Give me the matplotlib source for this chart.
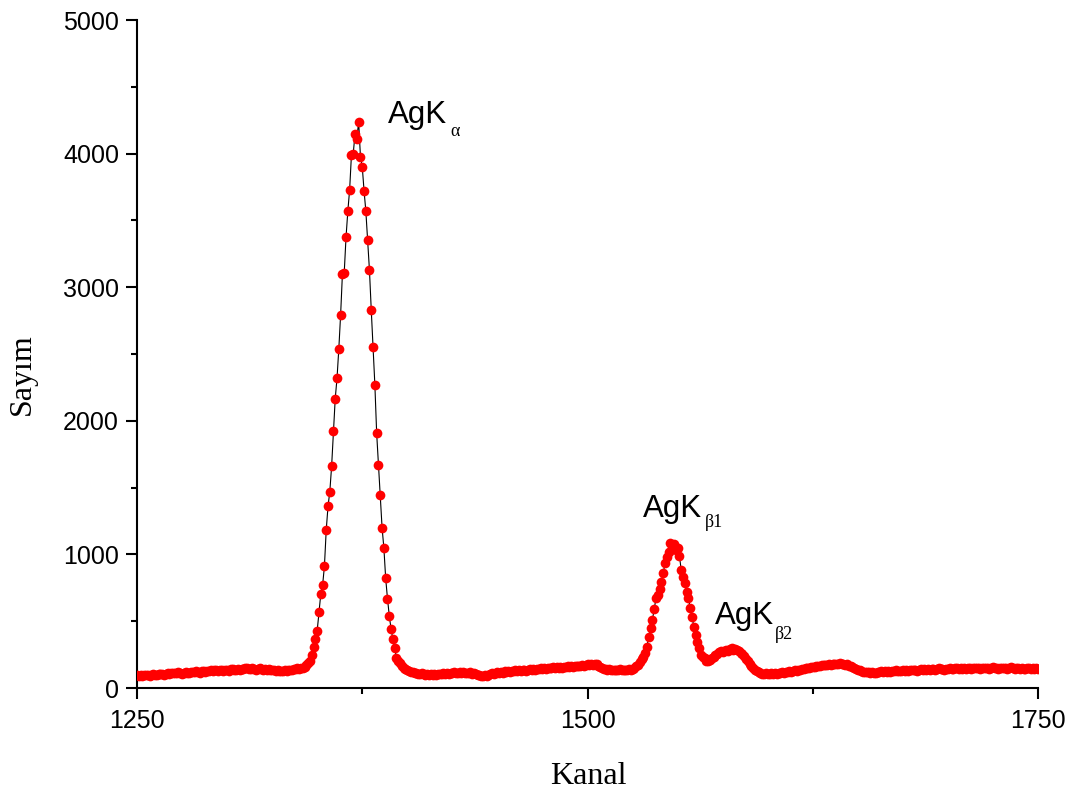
import numpy as np
import matplotlib
matplotlib.use("Agg")
import matplotlib.pyplot as plt
from matplotlib.ticker import MultipleLocator

# ---- data (counts per channel, channel 1250 .. 1750) ----
counts = [
    95, 92, 98, 90, 94, 100, 97, 93, 99, 104,
    101, 96, 105, 108, 102, 99, 106, 110, 104, 112,
    115, 109, 113, 118, 111, 107, 114, 120, 116, 112,
    118, 123, 119, 125, 121, 116, 124, 128, 122, 130,
    127, 133, 126, 131, 138, 129, 135, 132, 128, 136,
    134, 130, 139, 142, 136, 133, 140, 137, 144, 141,
    147, 150, 143, 139, 146, 141, 137, 143, 148, 140,
    136, 142, 138, 145, 134, 131, 137, 129, 133, 127,
    130, 125, 132, 128, 135, 131, 138, 142, 140, 148,
    145, 150, 148, 158, 170, 185, 205, 250, 310, 370,
    430, 570, 705, 770, 910, 1180, 1360, 1470, 1660, 1920,
    2165, 2320, 2540, 2795, 3100, 3110, 3375, 3570, 3730, 3990,
    4000, 4150, 4110, 4240, 3977, 3902, 3722, 3568, 3351, 3127,
    2829, 2555, 2270, 1906, 1671, 1442, 1200, 1048, 821, 669,
    541, 440, 365, 297, 227, 205, 185, 165, 150, 140,
    135, 128, 122, 118, 112, 115, 108, 105, 110, 104,
    101, 106, 99, 103, 97, 104, 100, 108, 102, 106,
    111, 105, 113, 108, 116, 110, 118, 112, 115, 120,
    114, 118, 109, 116, 112, 119, 107, 113, 104, 100,
    96, 92, 88, 95, 90, 98, 104, 110, 106, 114,
    118, 112, 121, 116, 124, 119, 127, 122, 130, 125,
    131, 128, 135, 130, 138, 133, 129, 136, 140, 134,
    141, 137, 145, 139, 148, 143, 150, 144, 147, 152,
    146, 154, 149, 156, 151, 158, 153, 160, 155, 162,
    157, 164, 159, 166, 161, 168, 163, 170, 165, 172,
    176, 170, 180, 174, 183, 177, 168, 160, 152, 145,
    140, 136, 142, 134, 138, 131, 137, 133, 139, 135,
    132, 138, 134, 141, 137, 145, 152, 162, 175, 195,
    215, 234, 260, 309, 384, 447, 509, 591, 671, 696,
    740, 796, 858, 933, 983, 1020, 1083, 1050, 1075, 1030,
    1046, 990, 883, 830, 784, 721, 671, 597, 534, 459,
    397, 347, 297, 247, 230, 222, 205, 200, 210, 225,
    234, 247, 258, 268, 275, 272, 280, 284, 278, 290,
    297, 288, 295, 285, 280, 262, 255, 240, 220, 200,
    180, 165, 150, 138, 128, 118, 112, 108, 104, 110,
    106, 102, 110, 105, 113, 108, 116, 111, 119, 114,
    120, 117, 124, 119, 127, 131, 126, 134, 138, 143,
    140, 147, 151, 148, 155, 160, 157, 164, 168, 165,
    172, 169, 175, 171, 178, 174, 180, 176, 183, 179,
    184, 177, 181, 173, 176, 168, 162, 155, 148, 140,
    136, 131, 127, 123, 120, 117, 121, 114, 118, 112,
    116, 121, 118, 124, 119, 126, 122, 128, 123, 130,
    126, 132, 127, 124, 130, 135, 129, 133, 128, 136,
    131, 138, 133, 129, 136, 140, 134, 139, 135, 142,
    137, 143, 139, 135, 141, 146, 140, 144, 138, 145,
    141, 147, 143, 139, 146, 150, 144, 148, 142, 149,
    145, 151, 146, 142, 148, 153, 147, 150, 144, 151,
    146, 152, 147, 143, 149, 154, 148, 151, 145, 150,
    147, 153, 146, 142, 148, 155, 149, 145, 151, 147,
    143, 149, 145, 141, 147, 151, 144, 148, 142, 146,
    140,
]
channels = np.arange(1250, 1250 + len(counts))

x_ticks = [1250, 1500, 1750]
y_ticks = [0, 1000, 2000, 3000, 4000, 5000]

# peak labels: (main text, subscript, x, y of main text, x, y of subscript)
peak_labels = [
    ("AgK", "\u03b1", 1389.3, 4229, 1423.7, 4128),
    ("AgK", "\u03b21", 1531.0, 1280, 1565.2, 1205),
    ("AgK", "\u03b22", 1570.8, 479, 1604.0, 367),
]

fig = plt.figure(figsize=(10.77, 7.92), dpi=100)
ax = fig.add_axes([137/1077, 1 - 688/792, (1038-137)/1077, (688-20)/792])

ax.plot(channels, counts, color="black", lw=0.8, zorder=2)
ax.plot(channels, counts, "o", color="#ff0000", ms=7, mew=0, zorder=3)

ax.set_xlim(1250, 1750)
ax.set_ylim(0, 5000)
ax.set_xticks(x_ticks)
ax.set_yticks(y_ticks)
ax.xaxis.set_minor_locator(MultipleLocator(125))
ax.yaxis.set_minor_locator(MultipleLocator(500))

for s in ["top", "right"]:
    ax.spines[s].set_visible(False)
for s in ["left", "bottom"]:
    ax.spines[s].set_linewidth(1.5)

ax.tick_params(which="major", direction="out", length=8, width=1.5,
               labelsize=18, pad=5)
ax.tick_params(which="minor", direction="out", length=4, width=1.5)
ax.tick_params(axis="x", which="major", pad=7)
for lbl in ax.get_xticklabels() + ax.get_yticklabels():
    lbl.set_fontfamily("Liberation Sans")

fig.text(22/1077, 1 - 374/792, "Say\u0131m", rotation=90, ha="center",
         va="center", fontsize=23, family="Liberation Serif")
fig.text(588/1077, 1 - 784/792, "Kanal", ha="center", va="baseline",
         fontsize=23, family="Liberation Serif")

for main, sub, xm, ym, xs, ys in peak_labels:
    ax.text(xm, ym, main, fontsize=22.5, family="Liberation Sans",
            ha="left", va="baseline")
    ax.text(xs, ys, sub, fontsize=13, family="Liberation Serif",
            ha="left", va="baseline")

fig.savefig("out.png", dpi=100)
